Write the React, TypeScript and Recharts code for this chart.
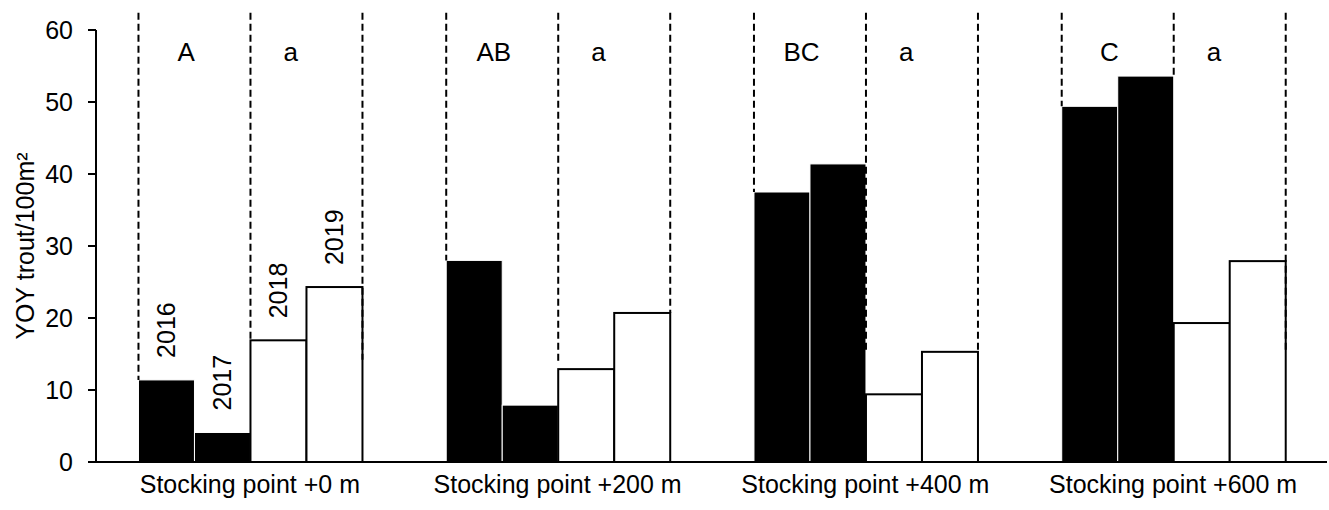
import React from 'react';
import { BarChart, Bar, XAxis, YAxis, LabelList } from 'recharts';

const categories = ['Stocking point +0 m', 'Stocking point +200 m', 'Stocking point +400 m', 'Stocking point +600 m'];
const years = ['2016', '2017', '2018', '2019'];
const v2016 = [11.4, 28.0, 37.5, 49.4];
const v2017 = [4.1, 7.9, 41.4, 53.6];
const v2018 = [16.9, 12.9, 9.4, 19.3];
const v2019 = [24.3, 20.7, 15.3, 27.9];
const lettersEarly = ['A', 'AB', 'BC', 'C'];
const lettersLate = ['a', 'a', 'a', 'a'];
const dashTop = 62.4;
const dashLeftEnd = [11.4, 28.0, 37.5, 49.4];
const dashMidEnd = [16.9, 13.5, 15.1, 53.6];
const dashRightEnd = [14.2, 20.7, 15.5, 15.3];
const letterValue = 56.9;
const yTicks = [0, 10, 20, 30, 40, 50, 60];

const seriesValues = [v2016, v2017, v2018, v2019];
const keys = ['y2016', 'y2017', 'y2018', 'y2019'];

const data = categories.map((name, i) => ({
  name,
  y2016: v2016[i],
  y2017: v2017[i],
  y2018: v2018[i],
  y2019: v2019[i],
}));

const FONT = '"Liberation Sans", Arial, sans-serif';

type Edge = 'left' | 'right' | null;

const makeShape = (seriesIdx: number, dark: boolean, edge: Edge, ends: number[] | null) => (props: any) => {
  const { x, y, width, height, index } = props;
  const val = seriesValues[seriesIdx][index];
  const ppu = val > 0 ? height / val : 0;
  const base = y + height;
  const yOf = (v: number) => base - v * ppu;
  let dash = null;
  if (edge && ends) {
    const dx = edge === 'left' ? x : x + width;
    dash = (
      <line
        x1={dx}
        x2={dx}
        y1={yOf(dashTop)}
        y2={yOf(ends[index])}
        stroke="#000"
        strokeWidth={2}
        strokeDasharray="7 4"
      />
    );
  }
  return (
    <g>
      <rect
        x={x}
        y={y}
        width={width}
        height={height}
        fill={dark ? '#000' : '#fff'}
        stroke={dark ? '#fff' : '#000'}
        strokeWidth={dark ? 1 : 2}
      />
      {dash}
    </g>
  );
};

const makeLetter = (seriesIdx: number, letters: string[], frac: number) => (props: any) => {
  const { x, y, width, height, index } = props;
  const val = seriesValues[seriesIdx][index];
  const ppu = val > 0 ? height / val : 0;
  const base = y + height;
  const ty = base - letterValue * ppu;
  return (
    <text
      x={x + width * frac}
      y={ty}
      textAnchor="middle"
      dominantBaseline="central"
      fontSize={26}
      fontFamily={FONT}
      fill="#000"
    >
      {letters[index]}
    </text>
  );
};

const makeYear = (seriesIdx: number) => (props: any) => {
  const { x, y, width, index } = props;
  if (index !== 0) return null;
  const cx = x + width / 2;
  const ty = y - 22;
  return (
    <text
      x={cx}
      y={ty}
      transform={`rotate(-90, ${cx}, ${ty})`}
      textAnchor="start"
      dominantBaseline="central"
      fontSize={25}
      fontFamily={FONT}
      fill="#000"
    >
      {years[seriesIdx]}
    </text>
  );
};

const YLabel = (props: any) => {
  const { viewBox } = props;
  const cx = 25;
  const cy = viewBox.y + viewBox.height / 2;
  return (
    <text
      x={cx}
      y={cy}
      transform={`rotate(-90, ${cx}, ${cy})`}
      textAnchor="middle"
      dominantBaseline="central"
      fontSize={25}
      fontFamily={FONT}
      fill="#000"
    >
      YOY trout/100m²
    </text>
  );
};

export default function App() {
  return (
    <div style={{ position: 'absolute', left: 0, top: 0, width: 1329, height: 510, background: '#fff' }}>
      <BarChart
        width={1329}
        height={510}
        data={data}
        margin={{ top: 30, right: 2, bottom: 8, left: 0 }}
        barCategoryGap="13.8%"
        barGap={0}
      >
        <XAxis
          dataKey="name"
          tickLine={false}
          tickSize={0}
          tickMargin={13}
          height={40}
          axisLine={{ stroke: '#000', strokeWidth: 2 }}
          tick={{ fontSize: 25, fontFamily: FONT, fill: '#000' }}
          interval={0}
        />
        <YAxis
          domain={[0, 60]}
          ticks={yTicks}
          width={96}
          tickSize={8}
          tickMargin={15}
          axisLine={{ stroke: '#000', strokeWidth: 2 }}
          tickLine={{ stroke: '#000', strokeWidth: 2 }}
          tick={{ fontSize: 25, fontFamily: FONT, fill: '#000' }}
          label={<YLabel />}
        />
        <Bar dataKey={keys[0]} isAnimationActive={false} shape={makeShape(0, true, 'left', dashLeftEnd)}>
          <LabelList dataKey={keys[0]} content={makeYear(0)} />
          <LabelList dataKey={keys[0]} content={makeLetter(0, lettersEarly, 0.85)} />
        </Bar>
        <Bar dataKey={keys[1]} isAnimationActive={false} shape={makeShape(1, true, null, null)}>
          <LabelList dataKey={keys[1]} content={makeYear(1)} />
        </Bar>
        <Bar dataKey={keys[2]} isAnimationActive={false} shape={makeShape(2, false, 'left', dashMidEnd)}>
          <LabelList dataKey={keys[2]} content={makeYear(2)} />
          <LabelList dataKey={keys[2]} content={makeLetter(2, lettersLate, 0.72)} />
        </Bar>
        <Bar dataKey={keys[3]} isAnimationActive={false} shape={makeShape(3, false, 'right', dashRightEnd)}>
          <LabelList dataKey={keys[3]} content={makeYear(3)} />
        </Bar>
      </BarChart>
    </div>
  );
}
